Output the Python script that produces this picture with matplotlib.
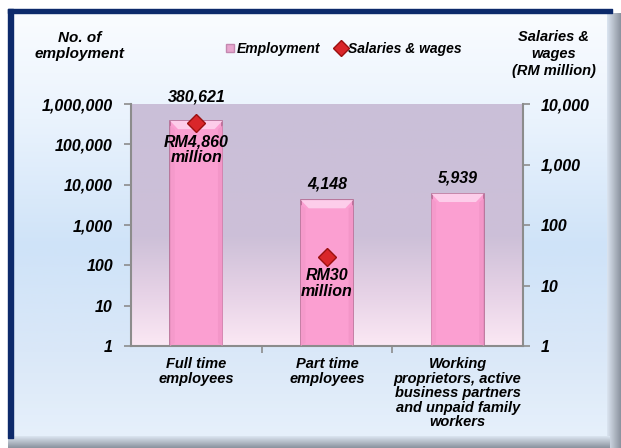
import matplotlib.pyplot as plt
import numpy as np
from matplotlib.colors import LinearSegmentedColormap
from matplotlib.ticker import FixedLocator, FuncFormatter, NullLocator

plt.rcParams['font.family'] = ['Liberation Sans', 'DejaVu Sans']
plt.rcParams['font.weight'] = 'bold'
plt.rcParams['font.style'] = 'italic'

categories = ['Full time\nemployees', 'Part time\nemployees',
              'Working\nproprietors, active\nbusiness partners\nand unpaid family\nworkers']
employment = [380621, 4148, 5939]
emp_labels = ['380,621', '4,148', '5,939']
salaries = [4860, 30]
sal_labels = ['RM4,860\nmillion', 'RM30\nmillion']

W, H = 621, 448
fig = plt.figure(figsize=(W / 100, H / 100), dpi=100, facecolor='white')

# panel background
bg = fig.add_axes([0, 0, 1, 1])
bg.set_xlim(0, W)
bg.set_ylim(H, 0)
bg.axis('off')
panel_cmap = LinearSegmentedColormap.from_list(
    'panel', [(0, '#fafcff'), (0.25, '#eaf3fd'), (0.55, '#cfe3f8'), (0.8, '#dae8f8'), (1, '#e6f0fb')])
grad = np.linspace(0, 1, 256).reshape(-1, 1)
bg.imshow(grad, cmap=panel_cmap, extent=[13, 610, 437, 13], aspect='auto', zorder=0)
# navy border top/left
bg.fill_between([8, 612], 9.5, 13.5, color='#0d2a6b', zorder=2)
bg.fill_between([8, 12.5], 9.5, 438, color='#0d2a6b', zorder=2)
# grey bevel right/bottom
shade = LinearSegmentedColormap.from_list('shade', ['#dbe5f1', '#b4bcc7', '#8a929e'])
bg.imshow(np.linspace(0, 1, 64).reshape(1, -1), cmap=shade, extent=[607, 621, 448, 13],
          aspect='auto', zorder=1)
bg.imshow(np.linspace(0, 1, 64).reshape(-1, 1), cmap=shade, extent=[8, 610, 448, 436],
          aspect='auto', zorder=1)

# main axes
ax = fig.add_axes([131 / W, 1 - 346 / H, (523 - 131) / W, (346 - 104) / H])
ax.set_facecolor('none')
plot_cmap = LinearSegmentedColormap.from_list(
    'plot', [(0, '#cabfd8'), (0.55, '#cdc0d8'), (0.78, '#e6d2e6'), (1, '#fbe8f4')])
ax.imshow(grad, cmap=plot_cmap, extent=[0, 1, 0, 1], transform=ax.transAxes,
          aspect='auto', zorder=0)

x = np.arange(len(categories))
bw = 0.4
ax.bar(x, employment, width=bw, bottom=1, color='#fb9fd1', edgecolor='#b56a92',
       linewidth=1.2, zorder=2)
ax.set_yscale('log')
ax.set_ylim(1, 1e6)
ax.set_xlim(-0.5, len(categories) - 0.5)

# bevel highlight on the top of each bar
d, f = 0.06, 1.6
for xi, v in zip(x, employment):
    ax.fill([xi - bw / 2, xi + bw / 2, xi + bw / 2 - d, xi - bw / 2 + d],
            [v, v, v / f, v / f], color='#fdcdea', lw=0, zorder=3)
    ax.fill([xi - bw / 2, xi - bw / 2 + 0.035, xi - bw / 2 + 0.035, xi - bw / 2],
            [v / 1.3, v / f, 1.2, 1], color='#f59acb', lw=0, zorder=3)
    ax.fill([xi + bw / 2, xi + bw / 2 - 0.035, xi + bw / 2 - 0.035, xi + bw / 2],
            [v / 1.3, v / f, 1.2, 1], color='#f396c8', lw=0, zorder=3)

ax.yaxis.set_major_locator(FixedLocator([10 ** i for i in range(7)]))
ax.yaxis.set_minor_locator(NullLocator())
ax.yaxis.set_major_formatter(FuncFormatter(lambda v, p: f'{int(round(v)):,}'))
ax.set_xticks(x)
ax.set_xticklabels(categories, fontsize=10.5, linespacing=1.05)
ax.set_xticks([0.5, 1.5], minor=True)
ax.tick_params(axis='x', which='major', length=0, pad=8)
ax.tick_params(axis='x', which='minor', length=5, width=1.2, color='#8c8c8c', direction='out')
ax.tick_params(axis='y', length=5, width=1.2, color='#8c8c8c', labelsize=11.5, pad=8)

for s in ['top', 'right']:
    ax.spines[s].set_visible(False)
for s in ['left', 'bottom']:
    ax.spines[s].set_color('#8c8c8c')
    ax.spines[s].set_linewidth(1.5)

label_offsets = [11.5, 6, 6]
for xi, v, lab, off in zip(x, employment, emp_labels, label_offsets):
    ax.annotate(lab, (xi, v), xytext=(0, off), textcoords='offset points',
                ha='center', va='bottom', fontsize=11.5, zorder=5, annotation_clip=False)

ax2 = ax.twinx()
ax2.set_yscale('log')
ax2.set_ylim(1, 1e4)
ax2.yaxis.set_major_locator(FixedLocator([10 ** i for i in range(5)]))
ax2.yaxis.set_minor_locator(NullLocator())
ax2.yaxis.set_major_formatter(FuncFormatter(lambda v, p: f'{int(round(v)):,}'))
ax2.tick_params(axis='y', length=5, width=1.2, color='#8c8c8c', labelsize=11.5, pad=8)
for s in ['top', 'left', 'bottom']:
    ax2.spines[s].set_visible(False)
ax2.spines['right'].set_color('#8c8c8c')
ax2.spines['right'].set_linewidth(1.5)

ax2.plot(x[:len(salaries)], salaries, linestyle='none', marker='D', markersize=9.5,
         markerfacecolor='#d9262a', markeredgecolor='#9a1010', markeredgewidth=1, zorder=5)
for xi, v, lab in zip(x, salaries, sal_labels):
    ax2.annotate(lab, (xi, v), xytext=(0, -8), textcoords='offset points',
                 ha='center', va='top', fontsize=11.5, linespacing=1.1, zorder=5)

# axis titles
fig.text(80 / W, 1 - 46 / H, 'No. of\nemployment', ha='center', va='center',
         fontsize=11, linespacing=1.12)
fig.text(554 / W, 1 - 54 / H, 'Salaries &\nwages\n(RM million)', ha='center', va='center',
         fontsize=10.5, linespacing=1.3)

# legend
h1 = plt.Line2D([], [], linestyle='none', marker='s', markersize=6,
                markerfacecolor='#e8a6cf', markeredgecolor='#c488b0')
h2 = plt.Line2D([], [], linestyle='none', marker='D', markersize=8,
                markerfacecolor='#d9262a', markeredgecolor='#9a1010')
fig.legend([h1, h2], ['Employment', 'Salaries & wages'], loc='center',
           bbox_to_anchor=(344 / W, 1 - 49 / H), ncol=2, frameon=False, fontsize=10,
           handlelength=0.6, handletextpad=0.2, columnspacing=1.2)

fig.savefig('out.png', dpi=100)
